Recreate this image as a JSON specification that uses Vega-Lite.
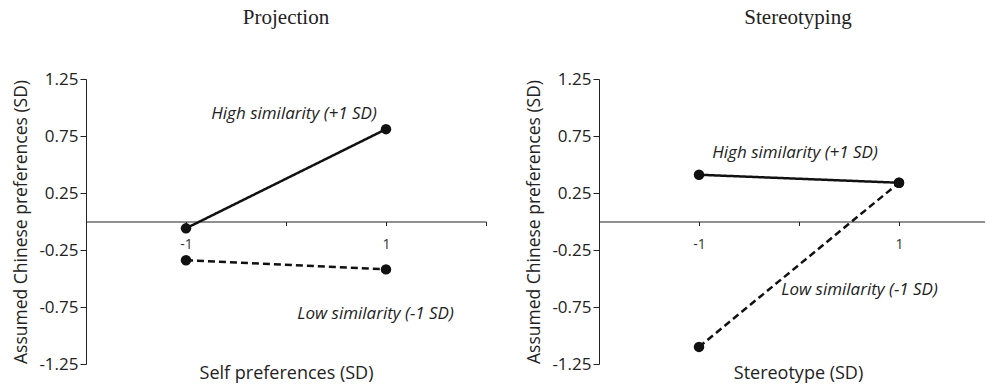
{
  "$schema": "https://vega.github.io/schema/vega-lite/v6.json",
  "background": "white",
  "padding": {"left": 12, "top": 7, "right": 0, "bottom": 0},
  "config": {"view": {"stroke": null}, "font": "Open Sans", "concat": {"spacing": 38}},
  "datasets": {
    "points": [
      {"panel": "P", "group": "High", "x": -1, "y": -0.06},
      {"panel": "P", "group": "High", "x": 1, "y": 0.81},
      {"panel": "P", "group": "Low", "x": -1, "y": -0.34},
      {"panel": "P", "group": "Low", "x": 1, "y": -0.42},
      {"panel": "S", "group": "High", "x": -1, "y": 0.41},
      {"panel": "S", "group": "High", "x": 1, "y": 0.34},
      {"panel": "S", "group": "Low", "x": -1, "y": -1.1},
      {"panel": "S", "group": "Low", "x": 1, "y": 0.34}
    ],
    "labels": [
      {"panel": "P", "text": "High similarity (+1 SD)", "x": 0.08, "y": 0.94},
      {"panel": "P", "text": "Low similarity (-1 SD)", "x": 0.895, "y": -0.81},
      {"panel": "S", "text": "High similarity (+1 SD)", "x": -0.04, "y": 0.6},
      {"panel": "S", "text": "Low similarity (-1 SD)", "x": 0.605, "y": -0.605}
    ]
  },
  "hconcat": [
    {
      "title": {"text": "Projection", "font": "Liberation Serif", "fontSize": 21, "fontWeight": "normal", "color": "#222", "frame": "group", "offset": 42},
      "width": 400,
      "height": 285,
      "encoding": {
        "x": {"field": "x", "type": "quantitative", "scale": {"domain": [-2, 2], "nice": false, "zero": false},
          "axis": {"values": [-2, -1, 0, 1, 2], "offset": -142.5, "domainColor": "#222", "tickColor": "#222", "tickSize": 4,
            "labelExpr": "datum.value==-1?'-1':datum.value==1?'1':''", "labelFontSize": 14, "labelPadding": 12, "labelColor": "#333",
            "title": "Self preferences (SD)", "titleFontSize": 18, "titleFontWeight": "normal", "titleColor": "#222", "titleY": 152, "titleBaseline": "middle", "grid": false}},
        "y": {"field": "y", "type": "quantitative", "scale": {"domain": [-1.25, 1.25], "nice": false},
          "axis": {"values": [-1.25, -0.75, -0.25, 0.25, 0.75, 1.25], "labelExpr": "(datum.value<0?'-':'')+format(abs(datum.value),'.2f')",
            "labelFontSize": 17, "labelColor": "#222", "tickSize": 6, "labelPadding": 2, "domainColor": "#222", "tickColor": "#222",
            "title": "Assumed Chinese preferences (SD)", "titleFontSize": 17.5, "titleFontWeight": "normal", "titleColor": "#222", "titlePadding": 8, "grid": false}}
      },
      "layer": [
        {"data": {"name": "points"}, "transform": [{"filter": "datum.panel=='P'"}],
          "mark": {"type": "line", "color": "#111", "strokeWidth": 2.5},
          "encoding": {"strokeDash": {"field": "group", "type": "nominal", "scale": {"domain": ["High", "Low"], "range": [[1, 0], [7, 4]]}, "legend": null}}},
        {"data": {"name": "points"}, "transform": [{"filter": "datum.panel=='P'"}],
          "mark": {"type": "point", "filled": true, "color": "#111", "size": 110, "opacity": 1}},
        {"data": {"name": "labels"}, "transform": [{"filter": "datum.panel=='P'"}],
          "mark": {"type": "text", "fontStyle": "italic", "fontSize": 17, "color": "#222", "font": "Open Sans"},
          "encoding": {"text": {"field": "text", "type": "nominal"}}}
      ]
    },
    {
      "title": {"text": "Stereotyping", "font": "Liberation Serif", "fontSize": 21, "fontWeight": "normal", "color": "#222", "frame": "group", "offset": 42, "dx": 6},
      "width": 386,
      "height": 285,
      "encoding": {
        "x": {"field": "x", "type": "quantitative", "scale": {"domain": [-2, 1.86], "nice": false, "zero": false},
          "axis": {"values": [-2, -1, 0, 1], "offset": -142.5, "domainColor": "#222", "tickColor": "#222", "tickSize": 4,
            "labelExpr": "datum.value==-1?'-1':datum.value==1?'1':''", "labelFontSize": 14, "labelPadding": 12, "labelColor": "#333",
            "title": "Stereotype (SD)", "titleFontSize": 18, "titleFontWeight": "normal", "titleColor": "#222", "titleY": 152, "titleBaseline": "middle", "titleX": 199, "grid": false}},
        "y": {"field": "y", "type": "quantitative", "scale": {"domain": [-1.25, 1.25], "nice": false},
          "axis": {"values": [-1.25, -0.75, -0.25, 0.25, 0.75, 1.25], "labelExpr": "(datum.value<0?'-':'')+format(abs(datum.value),'.2f')",
            "labelFontSize": 17, "labelColor": "#222", "tickSize": 6, "labelPadding": 2, "domainColor": "#222", "tickColor": "#222",
            "title": "Assumed Chinese preferences (SD)", "titleFontSize": 17.5, "titleFontWeight": "normal", "titleColor": "#222", "titlePadding": 8, "grid": false}}
      },
      "layer": [
        {"data": {"name": "points"}, "transform": [{"filter": "datum.panel=='S'"}],
          "mark": {"type": "line", "color": "#111", "strokeWidth": 2.5},
          "encoding": {"strokeDash": {"field": "group", "type": "nominal", "scale": {"domain": ["High", "Low"], "range": [[1, 0], [7, 4]]}, "legend": null}}},
        {"data": {"name": "points"}, "transform": [{"filter": "datum.panel=='S'"}],
          "mark": {"type": "point", "filled": true, "color": "#111", "size": 110, "opacity": 1}},
        {"data": {"name": "labels"}, "transform": [{"filter": "datum.panel=='S'"}],
          "mark": {"type": "text", "fontStyle": "italic", "fontSize": 17, "color": "#222", "font": "Open Sans"},
          "encoding": {"text": {"field": "text", "type": "nominal"}}}
      ]
    }
  ]
}
